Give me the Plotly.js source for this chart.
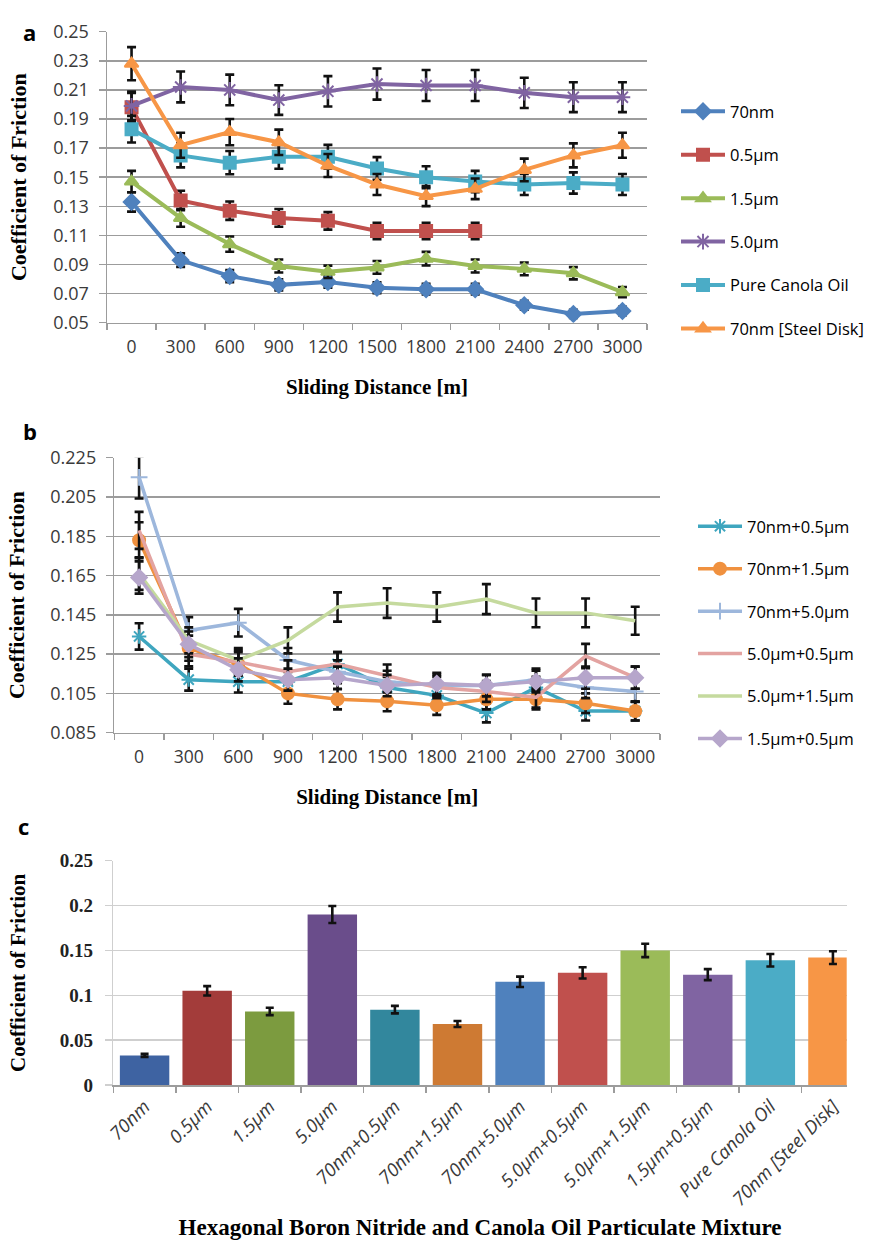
<!DOCTYPE html>
<html><head><meta charset="utf-8">
<script src="https://cdn.plot.ly/plotly-3.0.1.min.js"></script>
<style>html,body{margin:0;padding:0;background:#fff}#chart{width:892px;height:1240px}</style>
</head><body><div id="chart"></div>
<script>
// ---------- DATA ----------
const distance = ['0','300','600','900','1200','1500','1800','2100','2400','2700','3000'];

// Panel a
const namesA = ['70nm','0.5µm','1.5µm','5.0µm','Pure Canola Oil','70nm [Steel Disk]'];
const a_70nm   = [0.133,0.093,0.082,0.076,0.078,0.074,0.073,0.073,0.062,0.056,0.058];
const a_05um   = [0.198,0.134,0.127,0.122,0.120,0.113,0.113,0.113,null,null,null];
const a_15um   = [0.147,0.122,0.104,0.089,0.085,0.088,0.094,0.089,0.087,0.084,0.071];
const a_50um   = [0.199,0.212,0.210,0.203,0.209,0.214,0.213,0.213,0.208,0.205,0.205];
const a_canola = [0.183,0.165,0.160,0.164,0.164,0.156,0.150,0.147,0.145,0.146,0.145];
const a_steel  = [0.228,0.172,0.181,0.174,0.158,0.145,0.137,0.142,0.155,0.165,0.172];

// Panel b
const namesB = ['70nm+0.5µm','70nm+1.5µm','70nm+5.0µm','5.0µm+0.5µm','5.0µm+1.5µm','1.5µm+0.5µm'];
const b_70_05 = [0.134,0.112,0.111,0.111,0.120,0.108,0.104,0.095,0.108,0.096,0.096];
const b_70_15 = [0.183,0.128,0.120,0.105,0.102,0.101,0.099,0.102,0.102,0.100,0.096];
const b_70_50 = [0.215,0.137,0.141,0.122,0.116,0.111,0.109,0.109,0.112,0.108,0.106];
const b_50_05 = [0.188,0.125,0.121,0.116,0.120,0.114,0.108,0.106,0.103,0.124,0.113];
const b_50_15 = [0.166,0.132,0.122,0.132,0.149,0.151,0.149,0.153,0.146,0.146,0.142];
const b_15_05 = [0.164,0.130,0.117,0.112,0.113,0.109,0.110,0.109,0.111,0.113,0.113];

// Panel c
const mixtures = ['70nm','0.5µm','1.5µm','5.0µm','70nm+0.5µm','70nm+1.5µm','70nm+5.0µm',
  '5.0µm+0.5µm','5.0µm+1.5µm','1.5µm+0.5µm','Pure Canola Oil','70nm [Steel Disk]'];
const mixtureCOF = [0.033,0.105,0.082,0.190,0.084,0.068,0.115,0.125,0.150,0.123,0.139,0.142];

const ticksA = [0.05,0.07,0.09,0.11,0.13,0.15,0.17,0.19,0.21,0.23,0.25];
const ticksB = [0.085,0.105,0.125,0.145,0.165,0.185,0.205,0.225];
const ticksC = [0,0.05,0.1,0.15,0.2,0.25];

// ---------- STYLE ----------
const W = 892, H = 1240;
const px = x => x / W;
const py = y => 1 - y / H;
const SANS = 'Open Sans, sans-serif';
const SERIF = 'Liberation Serif, Times New Roman, serif';
const GRID = '#9c9c9c';
const TXT = '#3a3a3a';

const styleA = [
  {color:'#4F81BD', symbol:'diamond', size:12},
  {color:'#C0504D', symbol:'square', size:12},
  {color:'#9BBB59', symbol:'triangle-up', size:12},
  {color:'#8064A2', symbol:'asterisk-open', size:13},
  {color:'#4BACC6', symbol:'square', size:12},
  {color:'#F79646', symbol:'triangle-up', size:12}
];
const dataA = [a_70nm, a_05um, a_15um, a_50um, a_canola, a_steel];

const styleB = [
  {color:'#3FA6BF', symbol:'asterisk-open', size:12, mode:'lines+markers'},
  {color:'#F0913F', symbol:'circle', size:12, mode:'lines+markers'},
  {color:'#9DB7DC', symbol:'cross-thin-open', size:12, mode:'lines+markers'},
  {color:'#E3A3A1', symbol:'circle', size:1, mode:'lines'},
  {color:'#C5DA9E', symbol:'circle', size:1, mode:'lines'},
  {color:'#B6A6CB', symbol:'diamond', size:12, mode:'lines+markers'}
];
const dataB = [b_70_05, b_70_15, b_70_50, b_50_05, b_50_15, b_15_05];

const barColors = ['#3E63A2','#A33C3A','#7C9B3F','#6A4D8B','#32879D','#CE7A33',
  '#4F81BD','#C0504D','#9BBB59','#8064A2','#4BACC6','#F79646'];

const errBar = {type:'percent', value:5, color:'#111', thickness:2.6, width:4.5, visible:true};

const traces = [];
dataA.forEach((vals, i) => {
  const s = styleA[i];
  traces.push({
    type:'scatter', mode:'lines+markers', x:distance, y:vals, name:namesA[i],
    xaxis:'x', yaxis:'y', legend:'legend', legendgroup:'a'+i,
    line:{color:s.color, width:4},
    marker:{color:s.color, symbol:s.symbol, size:s.size, line:{color:s.color, width:2}},
    error_y:errBar, connectgaps:false
  });
});
dataB.forEach((vals, i) => {
  const s = styleB[i];
  traces.push({
    type:'scatter', mode:s.mode, x:distance, y:vals, name:namesB[i],
    xaxis:'x2', yaxis:'y2', legend:'legend2', legendgroup:'b'+i,
    line:{color:s.color, width:3.5},
    marker:{color:s.color, symbol:s.symbol, size:s.size, line:{color:s.color, width:2}},
    error_y:errBar
  });
});
traces.push({
  type:'bar', x:mixtures, y:mixtureCOF, xaxis:'x3', yaxis:'y3', showlegend:false,
  marker:{color:barColors, line:{width:0}},
  error_y:{type:'percent', value:5, color:'#111', thickness:2.6, width:4}
});

const catAxis = (domain, extra) => Object.assign({
  domain, type:'category', showgrid:false, showline:true, linecolor:GRID, linewidth:1.5,
  ticks:'outside', tickson:'boundaries', ticklen:6, tickcolor:GRID, tickwidth:1.5, tickangle:0,
  tickfont:{family:SANS, size:17.5, color:TXT}, zeroline:false, fixedrange:true
}, extra);
const valAxis = (domain, extra) => Object.assign({
  domain, showgrid:true, gridcolor:GRID, gridwidth:1.5, showline:true, linecolor:GRID, linewidth:1.5,
  ticks:'outside', ticklen:7, tickcolor:GRID, tickwidth:1.5, zeroline:false,
  tickfont:{family:SANS, size:18, color:TXT}, fixedrange:true
}, extra);

const layout = {
  width:W, height:H, margin:{l:0,r:0,t:0,b:0},
  paper_bgcolor:'#fff', plot_bgcolor:'#fff', showlegend:true,
  xaxis: catAxis([px(107), px(647)], {anchor:'y', range:[-0.5,10.5], ticklabelstandoff:8,
    title:{text:'<b>Sliding Distance [m]</b>', font:{family:SERIF, size:21, color:'#000'}, standoff:22}}),
  yaxis: valAxis([py(322.7), py(31.7)], {anchor:'x', range:[0.05,0.25], tickvals:ticksA, tickformat:'.2f',
    ticklabelstandoff:6,
    title:{text:'<b>Coefficient of Friction</b>', font:{family:SERIF, size:22, color:'#000'}, standoff:20}}),
  xaxis2: catAxis([px(114.3), px(660)], {anchor:'y2', range:[-0.5,10.5], ticklabelstandoff:8,
    title:{text:'<b>Sliding Distance [m]</b>', font:{family:SERIF, size:21, color:'#000'}, standoff:22}}),
  yaxis2: valAxis([py(732.7), py(457.7)], {anchor:'x2', range:[0.085,0.225], tickvals:ticksB, tickformat:'.3f',
    ticklabelstandoff:6,
    title:{text:'<b>Coefficient of Friction</b>', font:{family:SERIF, size:22, color:'#000'}, standoff:19}}),
  xaxis3: catAxis([px(113.3), px(846.7)], {anchor:'y3', range:[-0.5,11.22], tickangle:-45,
    tickfont:{family:SANS, size:18.5, color:TXT, style:'italic'}, ticklabelstandoff:2,
    title:{text:'<b>Hexagonal Boron Nitride and Canola Oil Particulate Mixture</b>', font:{family:SERIF, size:23, color:'#000'}, standoff:12}}),
  yaxis3: valAxis([py(1085), py(860.7)], {anchor:'x3', range:[0,0.25], tickvals:ticksC, gridcolor:'#cfcfcf',
    tickcolor:'#cfcfcf', linecolor:'#cfcfcf', ticklabelstandoff:8,
    tickfont:{family:SERIF, size:19, color:'#222', weight:'bold'},
    title:{text:'<b>Coefficient of Friction</b>', font:{family:SERIF, size:21, color:'#000'}, standoff:28}}),
  bargap:0.21,
  legend:{x:px(676), y:py(94), xanchor:'left', yanchor:'top', itemwidth:44, tracegroupgap:19,
    font:{family:SANS, size:16.5, color:'#000'}, bgcolor:'rgba(0,0,0,0)', itemclick:false, itemdoubleclick:false},
  legend2:{x:px(693), y:py(509), xanchor:'left', yanchor:'top', itemwidth:44, tracegroupgap:18,
    font:{family:SANS, size:16.5, color:'#000'}, bgcolor:'rgba(0,0,0,0)', itemclick:false, itemdoubleclick:false},
  annotations:[
    {text:'<b>a</b>', x:px(21), y:py(15), xref:'paper', yref:'paper', showarrow:false, font:{family:SANS, size:22, color:'#000'}},
    {text:'<b>b</b>', x:px(21), y:py(431), xref:'paper', yref:'paper', showarrow:false, font:{family:SANS, size:22, color:'#000'}},
    {text:'<b>c</b>', x:px(16), y:py(826), xref:'paper', yref:'paper', showarrow:false, font:{family:SANS, size:22, color:'#000'}}
  ]
};

Plotly.newPlot('chart', traces, layout, {displayModeBar:false, staticPlot:true});
</script>
</body></html>
